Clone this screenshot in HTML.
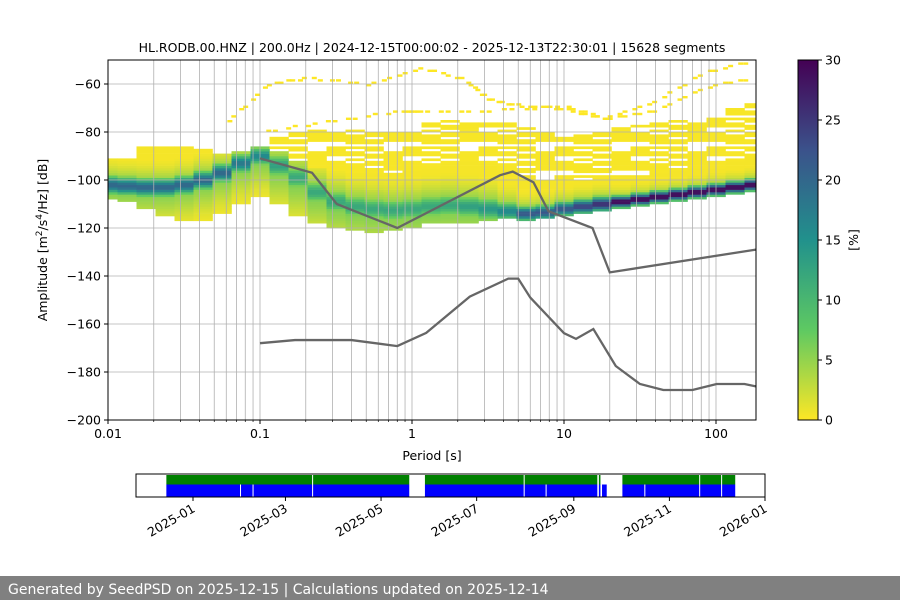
<!DOCTYPE html>
<html><head><meta charset="utf-8"><style>
body{margin:0;background:#fff;font-family:"Liberation Sans","DejaVu Sans",sans-serif;}
svg text{font-family:"DejaVu Sans","Liberation Sans",sans-serif;fill:#000;}
</style></head><body>
<svg id="chart" width="900" height="600" viewBox="0 0 900 600" xmlns="http://www.w3.org/2000/svg">
<defs>
<linearGradient id="vir" x1="0" y1="1" x2="0" y2="0">
<stop offset="0" stop-color="#fde725"/><stop offset="0.25" stop-color="#5ec962"/><stop offset="0.5" stop-color="#21918c"/><stop offset="0.75" stop-color="#3b528b"/><stop offset="1" stop-color="#440154"/>
</linearGradient>
<clipPath id="pc"><rect x="108" y="60" width="648" height="360"/></clipPath>
</defs>
<text x="432" y="52" font-size="12.5" text-anchor="middle">HL.RODB.00.HNZ | 200.0Hz | 2024-12-15T00:00:02 - 2025-12-13T22:30:01 | 15628 segments</text>
<g id="heat" clip-path="url(#pc)"></g>
<g id="grid"></g>
<g id="models" clip-path="url(#pc)"></g>
<rect x="108" y="60" width="648" height="360" fill="none" stroke="#000" stroke-width="1"/>
<g id="axes"></g>
<text transform="translate(47,240) rotate(-90)" font-size="12.5" text-anchor="middle">Amplitude [m<tspan dy="-5" font-size="9">2</tspan><tspan dy="5">/s</tspan><tspan dy="-5" font-size="9">4</tspan><tspan dy="5">/Hz] [dB]</tspan></text>
<text x="432" y="460" font-size="12.5" text-anchor="middle">Period [s]</text>
<rect x="798" y="60" width="20" height="360" fill="url(#vir)" stroke="#000" stroke-width="1"/>
<g id="cbar"></g>
<text transform="translate(858,240) rotate(-90)" font-size="12.5" text-anchor="middle">[%]</text>
<g id="timeline"></g>
<rect x="0" y="576" width="900" height="24" fill="#808080"/>
<text x="8" y="594" font-size="14" style="fill:#fff">Generated by SeedPSD on 2025-12-15 | Calculations updated on 2025-12-14</text>
</svg>
<script>
// ---- data ----
const colIdx = [0,1,2,3,4,5,6,7,8,9,10,11,12,13,14,15,16,17,18,19,20,21,22,23,24,25,26,27,28,29,30,31,32,33,34];
const modeDb = [-102,-102.5,-103,-103,-102,-100,-97,-93,-90,-94,-99,-105,-109,-111,-112,-112.5,-112,-111,-110.5,-111,-112,-113,-114,-113.5,-112,-111,-110,-109,-108,-107,-106,-105,-104,-103,-102];
const topDb = [-91,-91,-86,-86,-86,-87,-89,-88,-86,-88,-92,-95,-96,-97,-97,-97,-96,-95,-93,-92,-93,-96,-98,-100,-101,-100,-99,-98,-98,-97,-96,-95,-95,-92,-90];
const botDb = [-108,-109,-112,-115,-117,-117,-114,-110,-107,-110,-115,-118,-120,-121,-122,-121,-120,-118,-118,-118,-117,-116,-117,-116,-115,-114,-113,-112,-111,-110,-109,-108,-107,-106,-105];
const scatterTopDb = [-91,-91,-86,-86,-86,-87,-89,-88,-85,-82,-80,-79,-78,-78,-79,-80,-78,-76,-75,-74,-76,-76,-78,-80,-82,-80,-79,-78,-77,-76,-75,-74,-72,-70,-68];
const peakPct = [20,20,20,20,20,20,20,18,16,13,12,12,12,12,12,12,12,12,12,13,14,16,22,22,22,24,26,30,30,30,30,30,30,30,30];
const sigmaDb = [2.5,2.5,2.5,2.5,2.5,2.5,2.5,2.5,2.5,3,3,3,3,3,3,3,3,3,3,3,3,2.5,2,2,2,2,2,1.6,1.6,1.6,1.6,1.6,1.6,1.6,1.6];
const artifactLine1P = [0.061,0.111,0.2,0.5,1.1,2.2,3.1,5.1,9.8,18,38,82,176];
const artifactLine1Db = [-75.8,-61,-58,-61,-54,-59,-67,-69.6,-71,-75,-68,-56,-51];
const artifactLine2P = [0.11,0.3,0.83,1.1,3.1,9.8,18,38,82,176];
const artifactLine2Db = [-80,-76,-71.7,-71.7,-71.7,-70,-75,-71.6,-62,-58];
const nhnmP = [0.1,0.22,0.32,0.8,3.8,4.6,6.3,7.9,15.4,20,183];
const nhnmDb = [-91,-97,-110,-120,-98,-96.5,-101,-113,-120,-138.5,-129];
const nlnmP = [0.1,0.17,0.4,0.8,1.24,2.4,4.3,5,6,10,12,15.6,21.9,31.6,45,70,101,154,183];
const nlnmDb = [-168,-166.7,-166.7,-169.2,-163.7,-148.6,-141.1,-141.1,-149,-163.8,-166.2,-162.1,-177.5,-185,-187.5,-187.5,-185,-185,-186];
const yTicks = [-60,-80,-100,-120,-140,-160,-180,-200];
const xTickVals = [0.01,0.1,1,10,100];
const xTickLabels = ["0.01","0.1","1","10","100"];
const cbarTicks = [0,5,10,15,20,25,30];
const coverageGreen = [["2024-12-15","2025-05-19"],["2025-05-29","2025-09-16"],["2025-09-17","2025-09-18"],["2025-10-02","2025-12-13"]];
const greenGaps = ["2025-03-18","2025-07-31","2025-11-20","2025-12-04"];
const coverageBlue = [["2024-12-15","2025-05-19"],["2025-05-29","2025-09-16"],["2025-09-17","2025-09-18"],["2025-09-19","2025-09-22"],["2025-10-02","2025-12-13"]];
const blueGaps = ["2025-01-31","2025-02-08","2025-03-18","2025-07-31","2025-08-14","2025-10-16","2025-11-20","2025-12-04"];
const monthTicks = ["2025-01","2025-03","2025-05","2025-07","2025-09","2025-11","2026-01"];

// ---- scales ----
const NS="http://www.w3.org/2000/svg";
const X0=108,X1=756,Y0=60,Y1=420, PXDEC=152;
const xs = p => X0 + PXDEC*Math.log10(p/0.01);
const ys = d => Y1 - (d+200)*2.4;
const cs = v => Y1 - v/30*360;
const t0 = Date.UTC(2025,0,1), DAYPX = 572/365;
const ts = s => { const a=s.split('-').map(Number); return 193 + (Date.UTC(a[0],a[1]-1,a[2]||1)-t0)/86400000*DAYPX; };
function mk(tag,attrs,parent){const e=document.createElementNS(NS,tag);for(const k in attrs)e.setAttribute(k,attrs[k]);parent.appendChild(e);return e;}
const stops=[[0,[68,1,84]],[0.25,[59,82,139]],[0.5,[33,145,140]],[0.75,[94,201,98]],[1,[253,231,37]]];
function vir(v){let t=1-Math.min(1,v/30);for(let i=0;i<4;i++){const a=stops[i],b=stops[i+1];if(t<=b[0]){const f=(t-a[0])/(b[0]-a[0]);return 'rgb('+a[1].map((c,k)=>Math.round(c+(b[1][k]-c)*f)).join(',')+')';}}return 'rgb(253,231,37)';}
const mod=(a,n)=>((a%n)+n)%n;

// ---- heatmap ----
const heat=document.getElementById('heat');
colIdx.forEach((ci,i)=>{
  const p=0.01*Math.pow(10,ci/8);
  const xa=xs(p/Math.pow(10,1/16)), xb=xs(p*Math.pow(10,1/16));
  for(let d=-200; d<-50; d++){
    const dc=d+0.5; let v=-1;
    if(dc<=topDb[i] && dc>=botDb[i]){
      const dd=dc-modeDb[i];
      const s = dd<0 ? sigmaDb[i]*2.2 : sigmaDb[i]*1.3;
      const core = peakPct[i]*Math.exp(-0.5*Math.pow(dd/sigmaDb[i],2));
      const wide = 6*Math.exp(-0.5*Math.pow(dd/s/1.5,2));
      v=Math.max(0.4, core, wide);
    }
    else if(dc>topDb[i] && dc<=scatterTopDb[i]){ if(mod(d*7+ci*3+(d*ci)%4,6)<4) v=0.3; }
    if(v<0) continue;
    const r=mk('rect',{x:xa,y:ys(d+1),width:xb-xa+0.3,height:2.7,fill:vir(v)},heat);
    
    
  }
});
function artifact(P,D){
  for(let k=0;k<P.length-1;k++){
    const n=10;
    for(let j=0;j<n;j++){
      if(mod(j+k,3)===2) continue;
      const f=j/n, lp=Math.log10(P[k])+(Math.log10(P[k+1])-Math.log10(P[k]))*f;
      const d=D[k]+(D[k+1]-D[k])*f;
      const x=xs(Math.pow(10,lp));
      const r=mk('rect',{x:x,y:ys(Math.round(d)+1),width:5,height:2.4,fill:'#fde725'},heat);
      
      
    }
  }
}
artifact(artifactLine1P,artifactLine1Db);
artifact(artifactLine2P,artifactLine2Db);

// ---- grid ----
const grid=document.getElementById('grid');
for(let e=-2;e<=2;e++){for(let m=1;m<=9;m++){const p=m*Math.pow(10,e);const x=xs(p);if(x<X0+0.5||x>X1-0.5)continue;
  const l=mk('line',{x1:x,x2:x,y1:Y0,y2:Y1,stroke:'#b0b0b0','stroke-width':0.8},grid);
  }}
yTicks.forEach(d=>{const y=ys(d);const l=mk('line',{x1:X0,x2:X1,y1:y,y2:y,stroke:'#b0b0b0','stroke-width':0.8},grid);
  });

// ---- models ----
const models=document.getElementById('models');
function poly(P,D,name){const pl=mk('polyline',{points:P.map((p,i)=>xs(p)+','+ys(D[i])).join(' '),fill:'none',stroke:'#666','stroke-width':2.3},models);
  }
poly(nhnmP,nhnmDb,'nhnm-line');
poly(nlnmP,nlnmDb,'nlnm-line');

// ---- axes ----
const axes=document.getElementById('axes');
yTicks.forEach(d=>{const y=ys(d);mk('line',{x1:X0-4,x2:X0,y1:y,y2:y,stroke:'#000'},axes);
  const t=mk('text',{x:X0-7,y:y+4.5,'font-size':12.5,'text-anchor':'end'},axes);t.textContent='\u2212'+Math.abs(d);
  });
xTickVals.forEach((p,i)=>{const x=xs(p);mk('line',{x1:x,x2:x,y1:Y1,y2:Y1+4,stroke:'#000'},axes);
  const t=mk('text',{x:x,y:Y1+18,'font-size':12.5,'text-anchor':'middle'},axes);t.textContent=xTickLabels[i];
  });
for(let e=-2;e<=2;e++){for(let m=2;m<=9;m++){const x=xs(m*Math.pow(10,e));if(x>X1)continue;mk('line',{x1:x,x2:x,y1:Y1,y2:Y1+2,stroke:'#000','stroke-width':0.7},axes);}}
const cb=document.getElementById('cbar');
cbarTicks.forEach(v=>{const y=cs(v);mk('line',{x1:818,x2:822,y1:y,y2:y,stroke:'#000'},cb);
  const t=mk('text',{x:825,y:y+4.5,'font-size':12.5},cb);t.textContent=v;
  });

// ---- timeline ----
const tl=document.getElementById('timeline');
coverageGreen.forEach(s=>{const a=ts(s[0]),b=ts(s[1]);const r=mk('rect',{x:a,y:475,width:b-a,height:9.5,fill:'#008000'},tl);
  });
coverageBlue.forEach(s=>{const a=ts(s[0]),b=ts(s[1]);const r=mk('rect',{x:a,y:484.5,width:b-a,height:12.5,fill:'#0000ff'},tl);
  });
greenGaps.forEach(g=>{const x=ts(g);mk('rect',{x:x,y:475,width:1,height:9.5,fill:'#fff'},tl);});
blueGaps.forEach(g=>{const x=ts(g);mk('rect',{x:x,y:484.5,width:1,height:12.5,fill:'#fff'},tl);});
const box=mk('rect',{x:136,y:474,width:629,height:23,fill:'none',stroke:'#000'},tl);

monthTicks.forEach(m=>{const x=ts(m);mk('line',{x1:x,x2:x,y1:497,y2:501,stroke:'#000'},tl);
  const t=mk('text',{x:x+3,y:511,'font-size':12.5,'text-anchor':'end',transform:'rotate(-30 '+(x+3)+' 511)'},tl);t.textContent=m;
  });
</script>
</body></html>
